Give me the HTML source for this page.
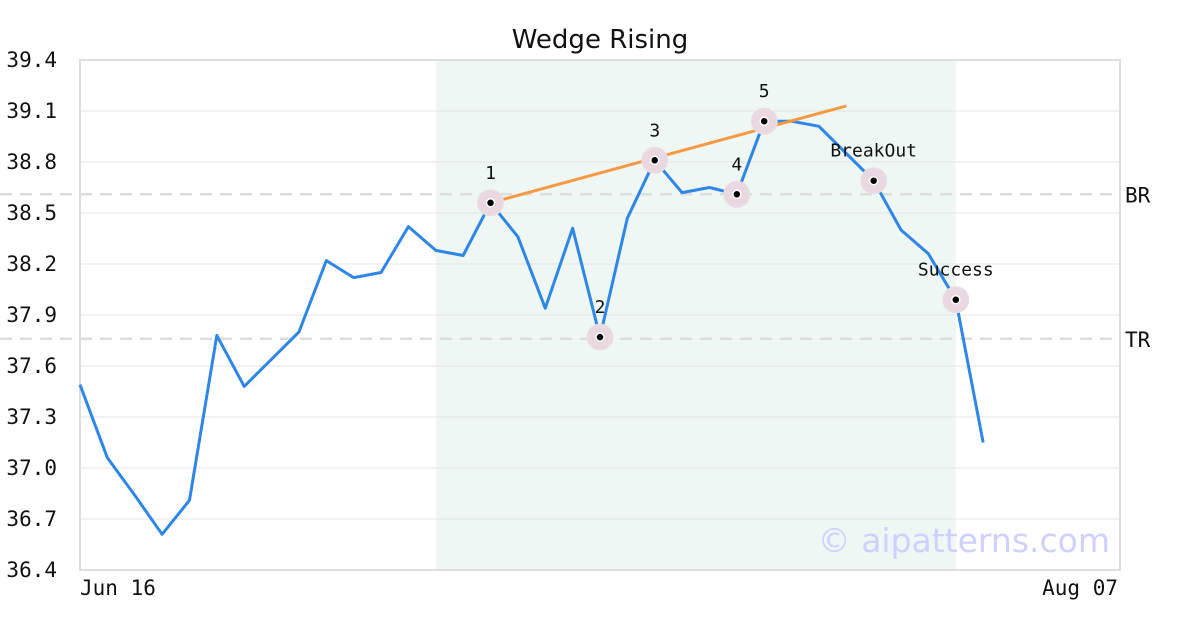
<!DOCTYPE html>
<html><head><meta charset="utf-8"><style>
body{margin:0;background:#fff;width:1200px;height:630px;overflow:hidden}
svg{display:block}
</style></head><body>
<svg id="c" width="1200" height="630"></svg>
<script>
const values=[37.49,37.06,36.84,36.61,36.81,37.78,37.48,37.64,37.80,38.22,38.12,38.15,38.42,38.28,38.25,38.56,38.36,37.94,38.41,37.77,38.47,38.81,38.62,38.65,38.61,39.04,39.04,39.01,38.85,38.69,38.40,38.26,37.99,37.15];
const yTicks=[36.4,36.7,37.0,37.3,37.6,37.9,38.2,38.5,38.8,39.1,39.4];
const xLabels=["Jun 16","Aug 07"];
const markers=[[15,"1"],[19,"2"],[21,"3"],[24,"4"],[25,"5"],[29,"BreakOut"],[32,"Success"]];
const trend=[[15,38.56],[28,39.13]];
const levels=[[38.61,"BR"],[37.76,"TR"]];
const shade=[13,32];
const nSlots=38;
const L=80,R=1120,T=60,B=570,yMin=36.4,yMax=39.4;
const X=i=>L+(R-L)*i/nSlots;
const Y=v=>B-(v-yMin)/(yMax-yMin)*(B-T);
const svg=document.getElementById('c');const NS='http://www.w3.org/2000/svg';
function mk(tag,attrs,name,txt){const e=document.createElementNS(NS,tag);for(const k in attrs)e.setAttribute(k,attrs[k]);


if(txt!==undefined)e.textContent=txt;svg.appendChild(e);return e;}
const mono='"DejaVu Sans Mono","Liberation Mono",monospace';
mk('rect',{x:X(shade[0]),y:T,width:X(shade[1])-X(shade[0]),height:B-T,fill:'#eef7f3'},'pattern-region');
yTicks.forEach(v=>{
 if(v>yMin&&v<yMax)mk('line',{x1:L,x2:R,y1:Y(v),y2:Y(v),stroke:'#e4e4e4','stroke-width':1},'grid-line');
 mk('text',{x:57,y:Y(v)+7,'text-anchor':'end','font-family':mono,'font-size':21,fill:'#111'},'y-tick-label',v.toFixed(1));
});
mk('rect',{x:L,y:T,width:R-L,height:B-T,fill:'none',stroke:'#ddd','stroke-width':2},'plot-frame');
levels.forEach(l=>{
 mk('line',{x1:0,x2:1120,y1:Y(l[0]),y2:Y(l[0]),stroke:'#ddd','stroke-width':2.5,'stroke-dasharray':'12,8'},'level-line');
 mk('text',{x:1125,y:Y(l[0])+8,'font-family':mono,'font-size':21,fill:'#111'},'level-label',l[1]);
});
mk('text',{x:L,y:595,'font-family':mono,'font-size':21,fill:'#111'},'x-tick-label',xLabels[0]);
mk('text',{x:R-2,y:595,'text-anchor':'end','font-family':mono,'font-size':21,fill:'#111'},'x-tick-label',xLabels[1]);
mk('text',{x:600,y:48,'text-anchor':'middle','font-family':'"DejaVu Sans",sans-serif','font-size':26,fill:'#111'},'chart-title','Wedge Rising');
mk('text',{x:1110,y:552,'text-anchor':'end','font-family':'"DejaVu Sans",sans-serif','font-size':33,fill:'#d0d0ff'},'watermark','© aipatterns.com');
mk('polyline',{points:values.map((v,i)=>X(i)+','+Y(v)).join(' '),fill:'none',stroke:'#2e86e8','stroke-width':3,'stroke-linejoin':'round'},'price-line');
mk('line',{x1:X(trend[0][0]),y1:Y(trend[0][1]),x2:X(trend[1][0]),y2:Y(trend[1][1]),stroke:'#f59a42','stroke-width':3},'wedge-trendline');
markers.forEach(m=>{
 const x=X(m[0]),y=Y(values[m[0]]);
 mk('circle',{cx:x,cy:y,r:13,fill:'#ead8e0',stroke:'#e9dfe4','stroke-width':1},'pivot-halo');
 mk('circle',{cx:x,cy:y,r:4,fill:'#000',stroke:'#fff','stroke-width':1.5},'pivot-point');
 mk('text',{x:x,y:y-24,'text-anchor':'middle','font-family':mono,'font-size':18,fill:'#111'},'pivot-label',m[1]);
});
</script>
</body></html>
